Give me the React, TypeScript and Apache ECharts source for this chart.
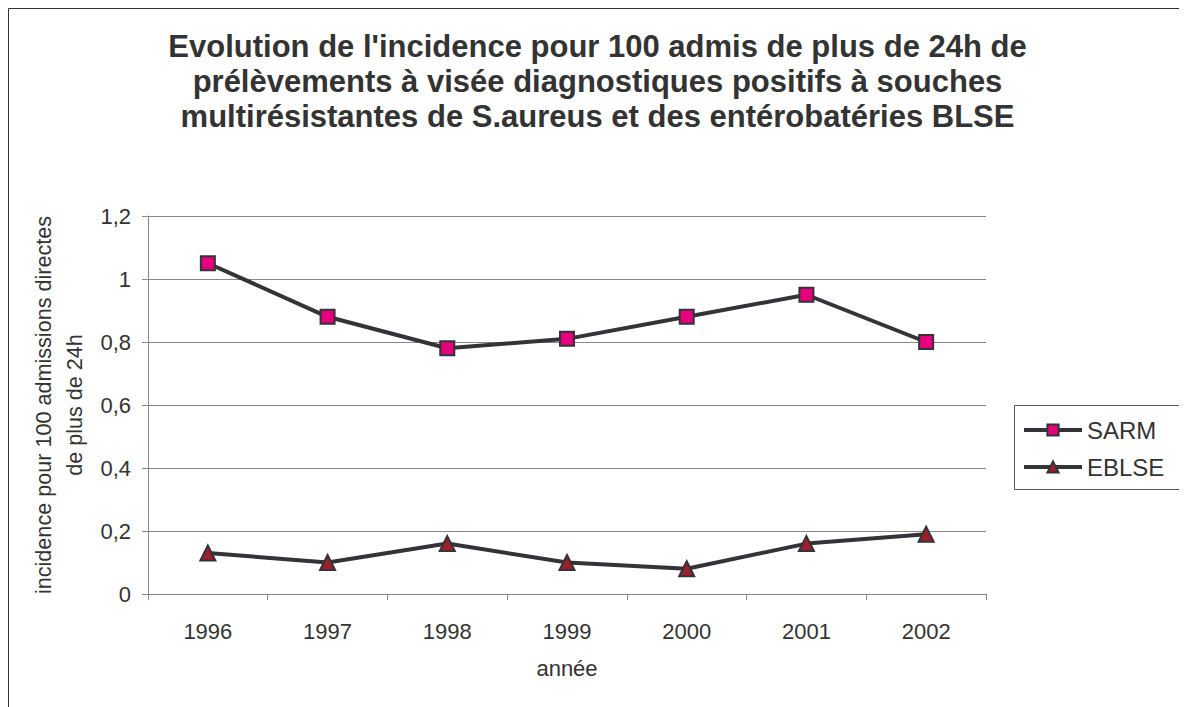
import React, { useEffect, useRef } from "react";
import * as echarts from "echarts";

const years = ["1996", "1997", "1998", "1999", "2000", "2001", "2002"];
const sarm = [1.05, 0.88, 0.78, 0.81, 0.88, 0.95, 0.8];
const eblse = [0.13, 0.1, 0.16, 0.1, 0.08, 0.16, 0.19];

const titleText =
  "Evolution de l'incidence pour 100 admis de plus de 24h de\nprélèvements à visée diagnostiques positifs à souches\nmultirésistantes de S.aureus et des entérobatéries BLSE";

export default function App() {
  const ref = useRef<HTMLDivElement>(null);
  useEffect(() => {
    document.body.style.overflow = "hidden";
    const chart = echarts.init(ref.current!, undefined, { renderer: "svg" });
    const font = "Arial";
    chart.setOption({
      animation: false,
      textStyle: { fontFamily: font },
      title: {
        text: titleText,
        left: "center",
        top: 16,
        textStyle: {
          fontFamily: font,
          fontSize: 31,
          fontWeight: "bold",
          color: "#333333",
          lineHeight: 35,
        },
      },
      graphic: [
        { type: "line", shape: { x1: 0.5, y1: 0.5, x2: 0.5, y2: 699 }, style: { stroke: "#333", lineWidth: 1 } },
        { type: "line", shape: { x1: 0.5, y1: 0.5, x2: 1179, y2: 0.5 }, style: { stroke: "#333", lineWidth: 1 } },
        { type: "rect", shape: { x: 1006.5, y: 397.5, width: 200, height: 84 }, style: { fill: "none", stroke: "#555", lineWidth: 1 } },
      ],
      legend: {
        orient: "vertical",
        left: 1014,
        top: 410,
        padding: 0,
        itemWidth: 58,
        itemHeight: 14,
        itemGap: 13,
        lineStyle: { width: 4, color: "#333338" },
        textStyle: { fontFamily: font, fontSize: 24, lineHeight: 24, color: "#333", padding: [0, 0, 0, 0] },
        data: ["SARM", "EBLSE"],
      },
      grid: { left: 140, top: 208, right: 201, bottom: 113, containLabel: false, outerBoundsMode: "none" },
      xAxis: {
        type: "category",
        data: years,
        boundaryGap: true,
        name: "année",
        nameLocation: "middle",
        nameGap: 63,
        nameTextStyle: { fontFamily: font, fontSize: 22, color: "#333" },
        axisLine: { lineStyle: { color: "#888", width: 1 } },
        axisTick: { show: true, length: 6, inside: false, lineStyle: { color: "#888" } },
        axisLabel: { fontFamily: font, fontSize: 22, color: "#333", margin: 26 },
      },
      yAxis: {
        type: "value",
        min: 0,
        max: 1.2,
        interval: 0.2,
        name: "incidence pour 100 admissions directes\nde plus de 24h",
        nameLocation: "middle",
        nameGap: 56,
        nameTextStyle: { fontFamily: font, fontSize: 21.6, color: "#333", lineHeight: 31 },
        axisLine: { show: true, lineStyle: { color: "#888", width: 1 } },
        axisTick: { show: true, length: 6, lineStyle: { color: "#888" } },
        axisLabel: {
          fontFamily: font,
          fontSize: 22,
          color: "#333",
          margin: 17,
          formatter: (v: number) => String(Math.round(v * 10) / 10).replace(".", ","),
        },
        splitLine: { show: true, lineStyle: { color: "#888", width: 1 } },
      },
      series: [
        {
          name: "SARM",
          type: "line",
          data: sarm,
          symbol: "rect",
          symbolSize: 14,
          lineStyle: { color: "#333338", width: 4 },
          itemStyle: { color: "#e6007e", borderColor: "#333338", borderWidth: 2 },
        },
        {
          name: "EBLSE",
          type: "line",
          data: eblse,
          symbol: "triangle",
          symbolSize: 15,
          lineStyle: { color: "#333338", width: 4 },
          itemStyle: { color: "#9e1f2b", borderColor: "#333338", borderWidth: 2 },
        },
      ],
    });
    return () => chart.dispose();
  }, []);
  return (
    <div
      ref={ref}
      style={{ width: 1179, height: 699 }}
    />
  );
}
